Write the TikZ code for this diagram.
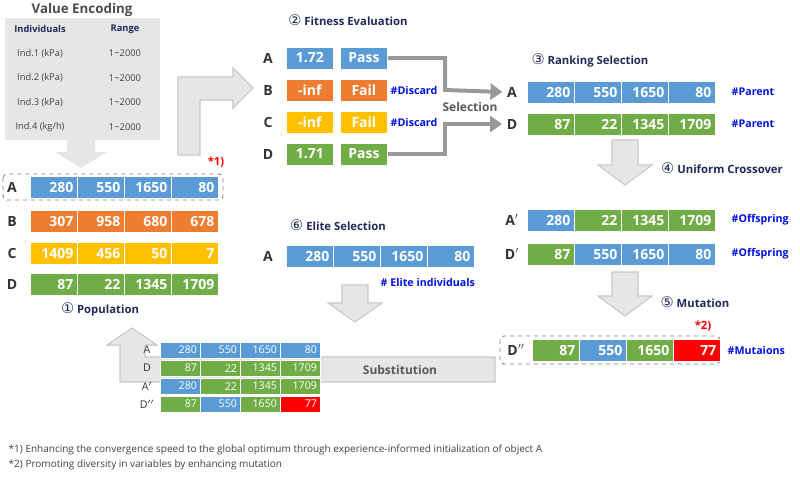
\documentclass[tikz,border=0pt]{standalone}
\usepackage{fontspec}
\setmainfont{Open Sans}
\newfontfamily\symfont{DejaVu Sans}
\usetikzlibrary{arrows.meta,positioning}
\definecolor{cblue}{HTML}{5B9BD5}
\definecolor{corange}{HTML}{ED7D31}
\definecolor{cyellow}{HTML}{FFC000}
\definecolor{cgreen}{HTML}{70AD47}
\definecolor{cred}{HTML}{FF0000}
\definecolor{navy}{HTML}{1F2A5A}
\definecolor{tagblue}{HTML}{0010E0}
\definecolor{blockfill}{HTML}{E6E6E6}
\definecolor{blockline}{HTML}{C8C8C8}
\tikzset{
  bigcell/.style={draw=white, line width=0.6pt, anchor=north west, text=white,
    font=\bfseries\fontsize{10.5}{12}\selectfont, minimum height=16.5pt,
    text width=29.25pt, align=right, inner sep=3pt},
  smallcell/.style={draw=white, line width=0.5pt, anchor=north west, text=white,
    font=\fontsize{8}{9}\selectfont, minimum height=12.5pt,
    text width=25pt, align=right, inner sep=2.5pt},
  lbl/.style={font=\bfseries\fontsize{10.5}{12}\selectfont, text=black!80},
  slbl/.style={font=\fontsize{8}{9}\selectfont, text=black!80},
  title/.style={font=\bfseries\fontsize{8.5}{10}\selectfont, text=navy},
  tag/.style={font=\bfseries\fontsize{8}{9}\selectfont, text=tagblue, anchor=west},
  note/.style={font=\bfseries\fontsize{8.5}{10}\selectfont, text=cred},
  block/.style={fill=blockfill, draw=blockline, line width=0.8pt},
  selline/.style={draw=black!40, line width=3pt, -{Triangle[length=9pt,width=12pt]}},
  dashbox/.style={draw=black!50, dashed, rounded corners=3pt, line width=0.7pt},
}
% row of cells: name, x, y, step, style, list of colour/value
\newcommand{\cellrow}[6]{%
  \foreach \c/\v [count=\i] in {#6}
    \node[#5, fill=\c] (#1-\i) at ({#2+#4*(\i-1)},#3) {\v};
}
\begin{document}
\begin{tikzpicture}[x=0.75pt,y=-0.75pt]
\useasboundingbox (0,0) rectangle (800,476);

% value encoding
\fill[blockfill] (5,18) rectangle (160,140);
\node[font=\bfseries\fontsize{10}{11}\selectfont, text=black!70] (enc) at (82,10) {Value Encoding};
\node[title, font=\bfseries\fontsize{7}{8}\selectfont] (hInd) at (40,29) {Individuals};
\node[title, font=\bfseries\fontsize{7}{8}\selectfont] (hRng) at (125,29) {Range};
\foreach \n/\u [count=\i] in {1/kPa,2/kPa,3/kPa,4/{kg/h}} {
  \node[font=\fontsize{7}{8}\selectfont, text=black!75] (ind\i) at (40,{29+24.5*\i}) {Ind.\n\ (\u)};
  \node[font=\fontsize{7}{8}\selectfont, text=black!75] (rng\i) at (125,{29+24.5*\i}) {1\textasciitilde2000};
}
\fill[block, draw=none] (67,140) -- (95,140) -- (95,152) -- (107,152) -- (81,168) -- (55,152) -- (67,152) -- cycle;

% bent arrow to fitness
\draw[block] (178,155) -- (178,77) -- (233,77) -- (233,68) -- (253,88) -- (233,108)
  -- (233,100) -- (200,100) -- (200,155) -- cycle;

% population
\foreach \r/\y in {A/187,B/221,C/253,D/284}
  \node[lbl] (p\r) at (12,\y) {\r};
\cellrow{pA}{30}{176}{47}{bigcell}{cblue/280,cblue/550,cblue/1650,cblue/80}
\cellrow{pB}{30}{210}{47}{bigcell}{corange/307,corange/958,corange/680,corange/678}
\cellrow{pC}{30}{242}{47}{bigcell}{cyellow/1409,cyellow/456,cyellow/50,cyellow/7}
\cellrow{pD}{30}{273}{47}{bigcell}{cgreen/87,cgreen/22,cgreen/1345,cgreen/1709}
\draw[dashbox] (3,174) rectangle (223,200);
\node[note] (n1) at (216,162) {*1)};
\node[title] (popT) at (100,309) {{\symfont\mdseries\fontsize{11}{12}\selectfont ①}\ Population};

% fitness evaluation
\node[title] (fitT) at (348,20) {{\symfont\mdseries\fontsize{11}{12}\selectfont ②}\ Fitness Evaluation};
\foreach \r/\y/\c/\v/\p in {A/58/cblue/1.72/Pass,B/90/corange/-inf/Fail,C/122/cyellow/-inf/Fail,D/154/cgreen/1.71/Pass} {
  \node[lbl] (f\r) at (268,\y) {\r};
  \node[bigcell, fill=\c, align=center, anchor=west] (f\r-v) at (286,\y) {\v};
  \node[bigcell, fill=\c, align=center, anchor=west] (f\r-p) at (340,\y) {\p};
}
\node[tag] (disB) at (386,90) {\#Discard};
\node[tag] (disC) at (386,122) {\#Discard};

% ranking selection
\node[title] (rankT) at (590,60) {{\symfont\mdseries\fontsize{11}{12}\selectfont ③}\ Ranking Selection};
\node[lbl] (rA) at (512,92) {A};
\node[lbl] (rD) at (512,124) {D};
\cellrow{rA}{527}{81}{47}{bigcell}{cblue/280,cblue/550,cblue/1650,cblue/80}
\cellrow{rD}{527}{113}{47}{bigcell}{cgreen/87,cgreen/22,cgreen/1345,cgreen/1709}
\node[tag] (parA) at (727,92) {\#Parent};
\node[tag] (parD) at (727,124) {\#Parent};
\draw[selline] (fA-p.east) -- (445,58) -- (445,90) -- (rA.west);
\draw[selline] (fD-p.east) -- (445,154) -- (445,124) -- (rD.west);
\node[font=\bfseries\fontsize{9}{10}\selectfont, text=black!65] (selT) at (470,107) {Selection};

% crossover
\fill[block] (612,140) -- (638,140) -- (638,165) -- (652,165) -- (625,185) -- (598,165) -- (612,165) -- cycle;
\node[title] (crossT) at (722,168) {{\symfont\mdseries\fontsize{11}{12}\selectfont ④}\ Uniform Crossover};
\node[lbl] (oA) at (512,220) {A$'$};
\node[lbl] (oD) at (512,254) {D$'$};
\cellrow{oA}{527}{209}{47}{bigcell}{cblue/280,cgreen/22,cgreen/1345,cgreen/1709}
\cellrow{oD}{527}{243}{47}{bigcell}{cgreen/87,cblue/550,cblue/1650,cblue/80}
\node[tag] (offA) at (727,220) {\#Offspring};
\node[tag] (offD) at (727,254) {\#Offspring};

% mutation
\fill[block] (612,272) -- (638,272) -- (638,296) -- (652,296) -- (625,316) -- (598,296) -- (612,296) -- cycle;
\node[title] (mutT) at (695,302) {{\symfont\mdseries\fontsize{11}{12}\selectfont ⑤}\ Mutation};
\draw[dashbox] (500,336) rectangle (720,364);
\node[note] (n2) at (703,326) {*2)};
\node[lbl] (mD) at (516,350) {D$''$};
\cellrow{mD}{532}{339}{47}{bigcell}{cgreen/87,cblue/550,cgreen/1650,cred/77}
\node[tag] (mutTag) at (723,350) {\#Mutaions};

% elite selection
\node[title] (eliteT) at (338,225) {{\symfont\mdseries\fontsize{11}{12}\selectfont ⑥}\ Elite Selection};
\node[lbl] (eA) at (268,256) {A};
\cellrow{eA}{286}{245}{47}{bigcell}{cblue/280,cblue/550,cblue/1650,cblue/80}
\node[tag] (eliteTag) at (376,282) {\# Elite individuals};
\fill[block] (342,285) -- (368,285) -- (368,303) -- (382,303) -- (355,322) -- (328,303) -- (342,303) -- cycle;

% substitution
\draw[block] (495,357) -- (495,382) -- (120,382) -- (120,345) -- (107,345) -- (132,328)
  -- (157,345) -- (145,345) -- (145,357) -- cycle;
\node[font=\bfseries\fontsize{9}{10}\selectfont, text=black!65] (subT) at (400,370) {Substitution};
\foreach \r/\y in {A/350,D/368,A$'$/386,D$''$/404}
  \node[slbl] at (147,\y) {\r};
\cellrow{sA}{160}{341.5}{40}{smallcell}{cblue/280,cblue/550,cblue/1650,cblue/80}
\cellrow{sD}{160}{359.5}{40}{smallcell}{cgreen/87,cgreen/22,cgreen/1345,cgreen/1709}
\cellrow{sO}{160}{377.5}{40}{smallcell}{cblue/280,cgreen/22,cgreen/1345,cgreen/1709}
\cellrow{sM}{160}{395.5}{40}{smallcell}{cgreen/87,cblue/550,cgreen/1650,cred/77}

% notes
\node[anchor=west, font=\fontsize{7.5}{9}\selectfont, text=black!75] (fn1) at (4,450)
  {*1) Enhancing the convergence speed to the global optimum through experience-informed initialization of object A};
\node[anchor=west, font=\fontsize{7.5}{9}\selectfont, text=black!75] (fn2) at (4,465)
  {*2) Promoting diversity in variables by enhancing mutation};
\end{tikzpicture}
\end{document}
